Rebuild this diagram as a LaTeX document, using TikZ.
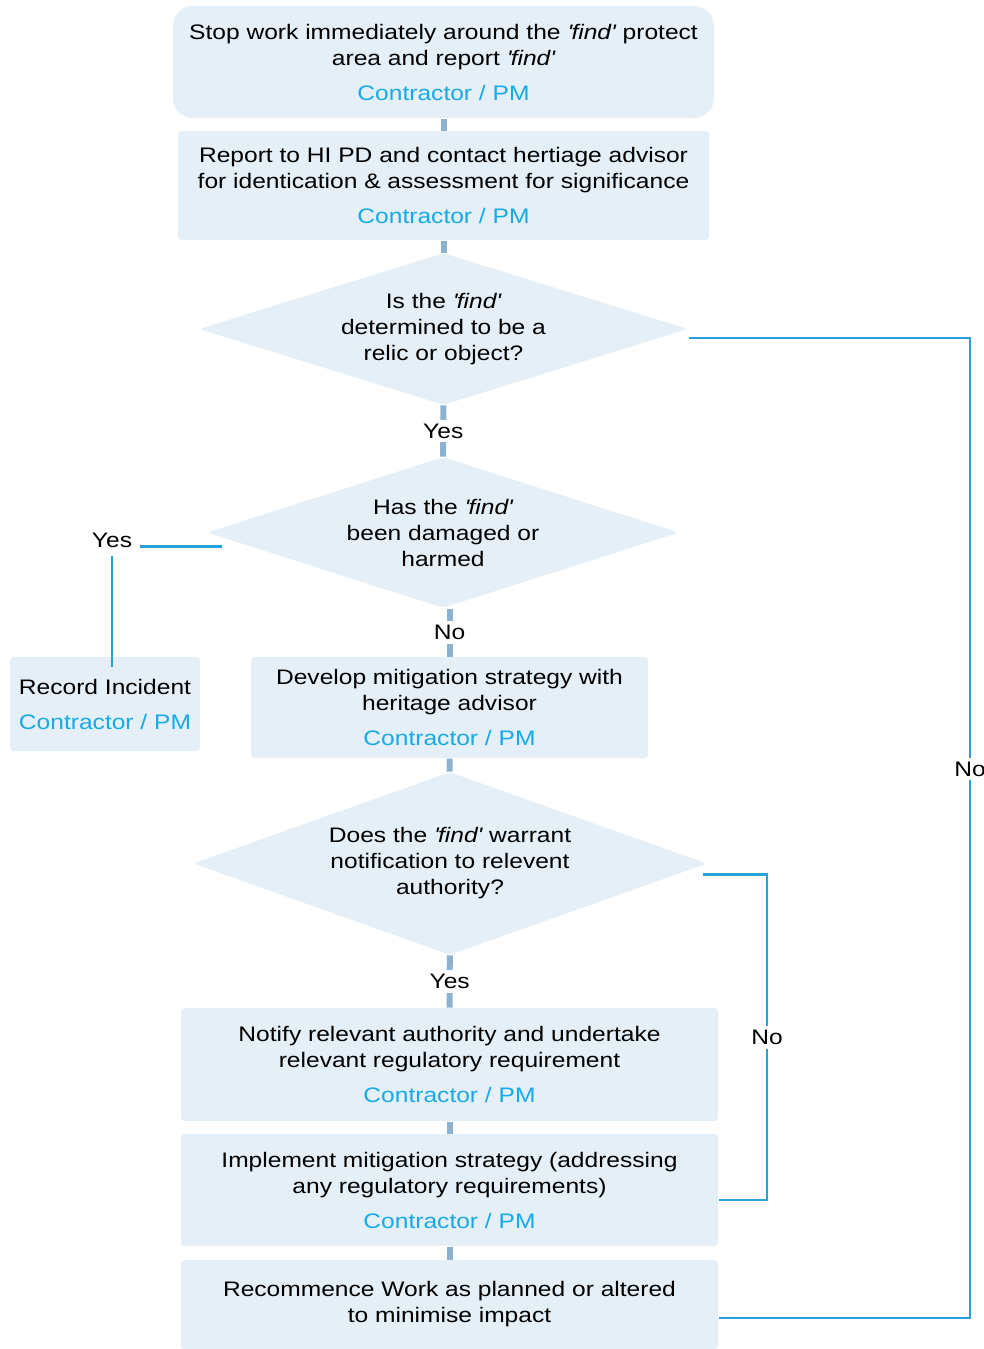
\documentclass[tikz,border=0pt]{standalone}
\usepackage{fontspec}
\setmainfont{Liberation Sans}[FakeStretch=1.17]
\usetikzlibrary{shapes.geometric}

\definecolor{boxfill}{RGB}{228,239,247}
\definecolor{roleblue}{RGB}{22,170,230}
\definecolor{linkgrey}{RGB}{140,178,208}
\definecolor{lineblue}{RGB}{38,162,216}

\newcommand{\wholine}{\\[6.75pt]\textcolor{roleblue}{Contractor / PM}}
\newcommand{\findq}{\textit{\textquotesingle find\textquotesingle}}

\tikzset{every picture/.style={line width=0.75pt}}
\tikzset{
  stepbox/.style={draw=none, fill=boxfill, rounded corners=2.5pt, align=center, inner sep=0pt},
  decision/.style={diamond, draw=none, fill=boxfill, rounded corners=3pt, align=center, inner sep=0pt},
  link/.style={draw=linkgrey, line width=4.5pt},
  branch/.style={draw=lineblue, line width=1.6pt},
  answer/.style={fill=white, inner sep=3pt},
}

\begin{document}
\begin{tikzpicture}[x=0.75pt,y=0.75pt,yscale=-1,xscale=1,font=\fontsize{15.75pt}{19.5pt}\selectfont]
\useasboundingbox (0,0) rectangle (983,1349);

% Steps and decisions
\node [stepbox, rounded corners=15pt, minimum width=405.75pt, minimum height=84pt] (stop) at (443.5,62)
  {Stop work immediately around the \findq{} protect\\area and report \findq\wholine};
\node [stepbox, minimum width=398.25pt, minimum height=81.75pt] (report) at (443.5,185.5)
  {Report to HI PD and contact hertiage advisor\\for identication \& assessment for significance\wholine};
\node [decision, shape aspect=3.2, minimum width=366.75pt, minimum height=114pt] (relic) at (443.5,329)
  {Is the \findq\\determined to be a\\relic or object?};
\node [decision, shape aspect=3.1, minimum width=354pt, minimum height=113.25pt] (damaged) at (443,532.5)
  {Has the \findq\\been damaged or\\harmed};
\node [stepbox, minimum width=142.5pt, minimum height=70.5pt] (incident) at (105,704)
  {Record Incident\wholine};
\node [stepbox, minimum width=297.75pt, minimum height=75.75pt] (develop) at (449.5,707.5)
  {Develop mitigation strategy with\\heritage advisor\wholine};
\node [decision, shape aspect=2.8, minimum width=385.5pt, minimum height=137.25pt] (warrant) at (450,863.5)
  {Does the \findq{} warrant\\notification to relevent\\authority?};
\node [stepbox, minimum width=402.75pt, minimum height=84.75pt] (notify) at (449.5,1064.5)
  {Notify relevant authority and undertake\\relevant regulatory requirement\wholine};
\node [stepbox, minimum width=402.75pt, minimum height=84pt] (implement) at (449.5,1190)
  {Implement mitigation strategy (addressing\\any regulatory requirements)\wholine};
\node [stepbox, minimum width=402.75pt, minimum height=66.75pt] (recommence) at (449.5,1304.5)
  {Recommence Work as planned or altered\\to minimise impact};

% Main flow
\draw [link] (stop) -- (report);
\draw [link] (report) -- (relic);
\draw [link] (relic) -- node [answer] {Yes} (damaged);
\draw [link] (damaged.south -| develop.north) -- node [answer] {No} (develop.north);
\draw [link] (develop) -- (warrant);
\draw [link] (warrant) -- node [answer] {Yes} (notify);
\draw [link] (notify) -- (implement);
\draw [link] (implement) -- (recommence);

% Side branches
\coordinate (farright) at (970,338);
\coordinate (nearright) at (767,874.5);
\draw [branch] ([yshift=6.75pt]relic.east) -- (farright)
  |- node [answer, pos=0.22] {No} ([yshift=10pt]recommence.east);
\draw [branch] ([xshift=-3.75pt,yshift=8.25pt]warrant.east) -- (nearright)
  |- node [answer, pos=0.25] {No} ([yshift=7.5pt]implement.east);
\draw [branch] ([xshift=11.25pt,yshift=10.5pt]damaged.west)
  -| node [answer, pos=0.5, inner sep=6pt, yshift=4.5pt] {Yes} ([xshift=5.25pt,yshift=8pt]incident.north);

\end{tikzpicture}
\end{document}
